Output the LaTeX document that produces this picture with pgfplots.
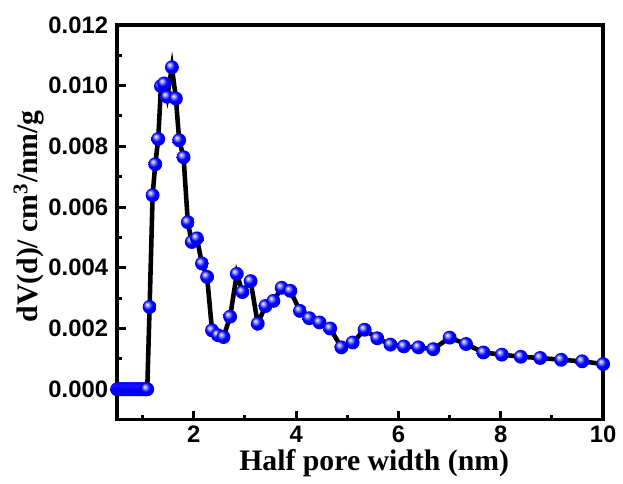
\documentclass[border=0pt]{standalone}
\usepackage{fontspec}
\setmainfont{Liberation Sans}
\newfontfamily\timesfont{Liberation Serif}
\usepackage{pgfplots}
\pgfplotsset{compat=1.18}
% shaded blue ball marker
\pgfdeclareradialshading{blueball}{\pgfqpoint{-10bp}{10bp}}{%
  color(0bp)=(white); color(7bp)=(blue!45!white);
  color(16bp)=(blue); color(34bp)=(blue!88!black);
  color(50bp)=(blue!65!black)}
\pgfdeclareplotmark{blueball}{%
  \pgfpathcircle{\pgfpointorigin}{\pgfplotmarksize}%
  \pgfshadepath{blueball}{0}%
  \pgfusepath{discard}}

\begin{document}
\begin{tikzpicture}
\begin{axis}[
  scale only axis, width=245pt, height=199pt,
  xmin=0.5, xmax=10, ymin=-0.001, ymax=0.012,
  axis line style={line width=1.8pt},
  xtick={2,4,6,8,10}, minor xtick={1,3,5,7,9},
  ytick={0,0.002,0.004,0.006,0.008,0.010,0.012},
  minor ytick={0.001,0.003,0.005,0.007,0.009,0.011},
  xtick pos=left, ytick pos=left, tick align=inside,
  major tick length=4.5pt, minor tick length=2.5pt,
  tick style={line width=1.5pt, black},
  scaled y ticks=false,
  yticklabel style={/pgf/number format/fixed, /pgf/number format/fixed zerofill,
    /pgf/number format/precision=3, xshift=-1pt},
  xticklabel style={yshift=0.5pt},
  /pgf/number format/assume math mode=true,
  tick label style={font=\fontsize{12}{14}\selectfont\bfseries},
  every axis x label/.style={at={(axis description cs:0.529,-0.130)}, anchor=base},
  every axis y label/.style={at={(axis description cs:-0.163,0.515)}, rotate=90, anchor=base},
  label style={font=\timesfont\fontsize{15}{17}\selectfont\bfseries},
  xlabel={Half pore width (nm)},
  ylabel={dV(d)/ cm\textsuperscript{3}/nm/g},
]
\addplot[black, line width=2.3pt, mark=blueball, mark size=3.5pt] coordinates {
(0.50,0) (0.53,0) (0.56,0) (0.59,0) (0.62,0) (0.65,0) (0.68,0) (0.71,0)
(0.74,0) (0.77,0) (0.80,0) (0.83,0) (0.86,0) (0.89,0) (0.92,0) (0.95,0)
(0.98,0) (1.01,0) (1.04,0) (1.07,0) (1.09,0)
(1.136,0.00271) (1.195,0.00639) (1.247,0.00741) (1.305,0.00824)
(1.358,0.00998) (1.42,0.01007) (1.48,0.00963) (1.572,0.0106)
(1.65,0.00957) (1.714,0.0082) (1.80,0.00764) (1.883,0.0055)
(1.96,0.00485) (2.06,0.00497) (2.16,0.00414) (2.26,0.0037)
(2.356,0.00194) (2.47,0.00178) (2.58,0.00172) (2.71,0.00239)
(2.84,0.0038) (2.95,0.0032) (3.11,0.00356) (3.25,0.00216)
(3.40,0.00274) (3.556,0.00291) (3.718,0.00334) (3.887,0.00324)
(4.074,0.00258) (4.257,0.00234) (4.457,0.0022) (4.665,0.002)
(4.885,0.00138) (5.105,0.00154) (5.338,0.00196) (5.585,0.00168)
(5.844,0.00147) (6.105,0.00141) (6.39,0.00138) (6.68,0.00132)
(7.00,0.0017) (7.32,0.00149) (7.66,0.00121) (8.02,0.00114)
(8.39,0.00107) (8.77,0.00103) (9.18,0.00097) (9.59,0.00092)
(10.0,0.00083)};
\end{axis}
\path (current axis.south west) ++(-59pt,-30.5pt) rectangle ++(311.5pt,242pt);
\end{tikzpicture}
\end{document}
